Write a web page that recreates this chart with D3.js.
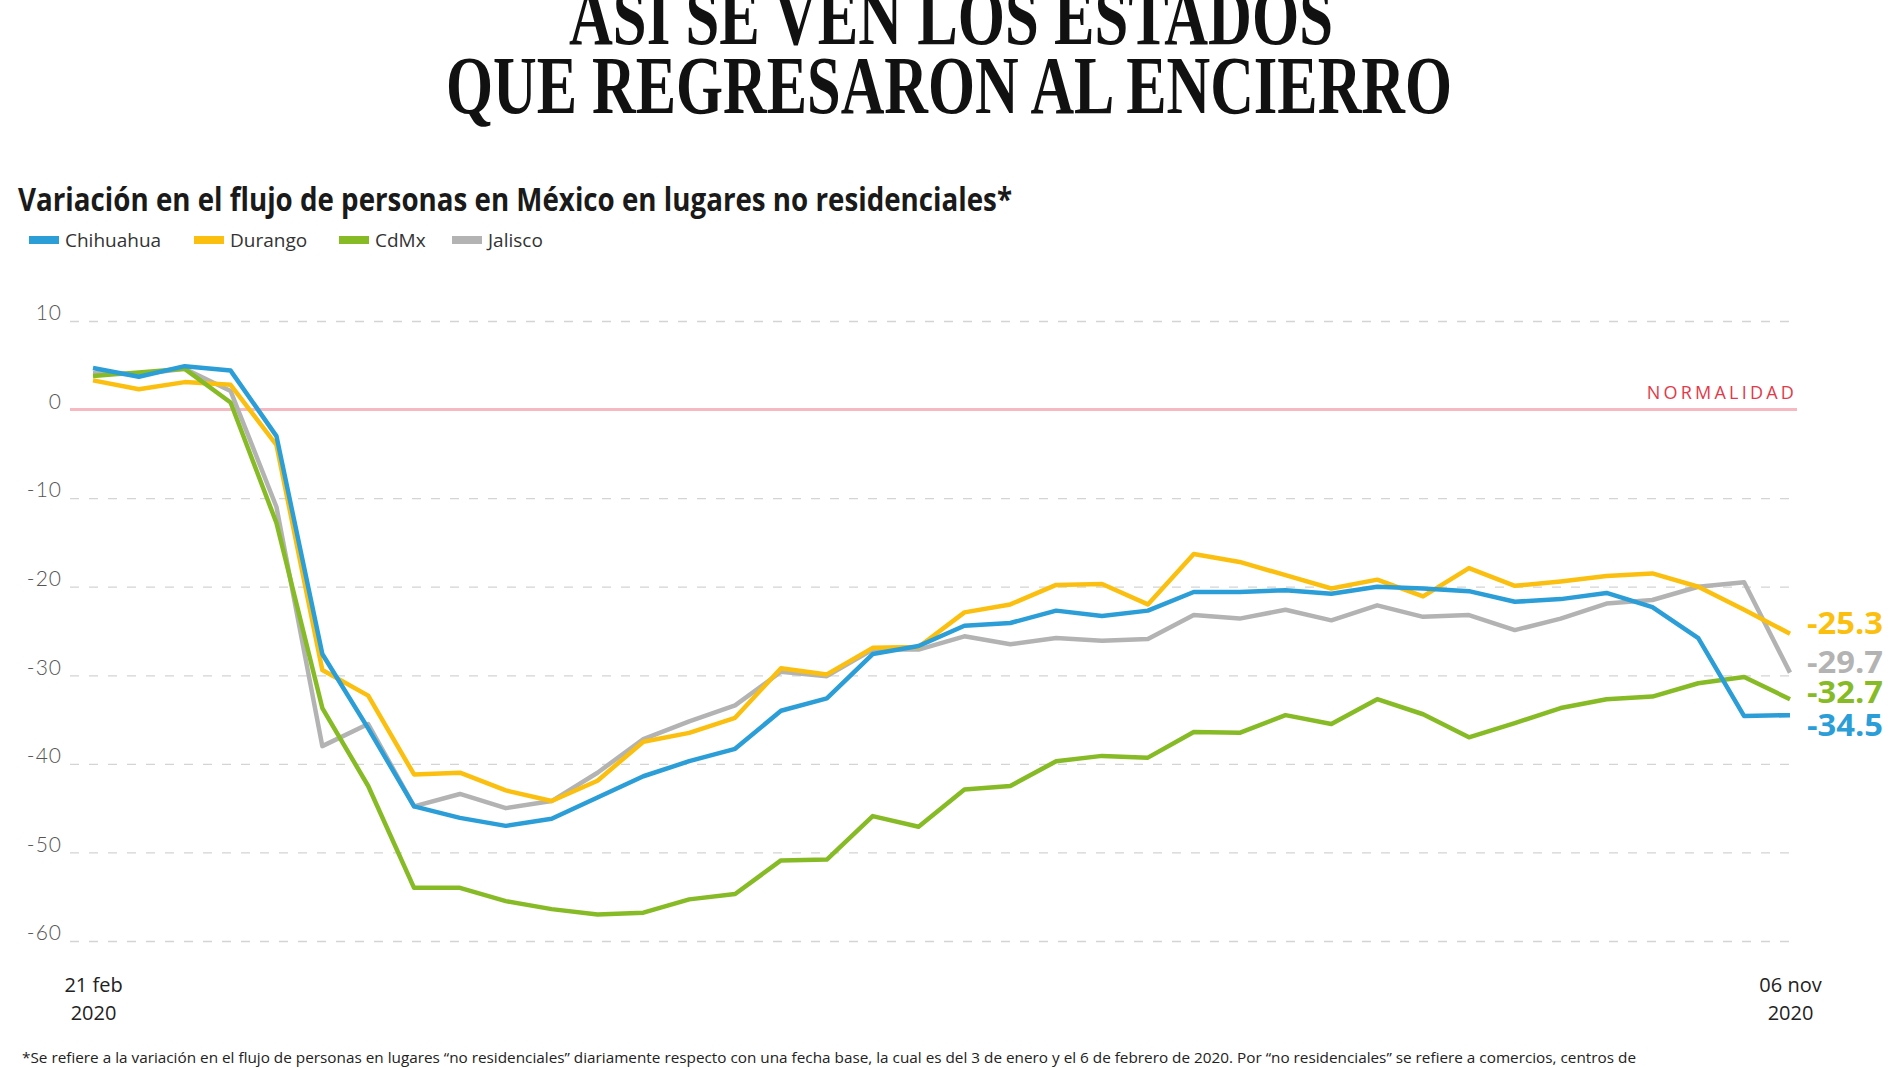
<!DOCTYPE html>
<html>
<head>
<meta charset="utf-8">
<script src="https://cdn.jsdelivr.net/npm/d3@7"></script>
<style>
  html, body { margin: 0; padding: 0; background: #fff; }
  svg { display: block; }
</style>
</head>
<body>
<svg id="chart" width="1900" height="1068"></svg>
<script>
// ---------- DATA ----------
const dates = ["2020-02-21","2020-02-28","2020-03-06","2020-03-13","2020-03-20","2020-03-27",
  "2020-04-03","2020-04-10","2020-04-17","2020-04-24","2020-05-01","2020-05-08","2020-05-15",
  "2020-05-22","2020-05-29","2020-06-05","2020-06-12","2020-06-19","2020-06-26","2020-07-03",
  "2020-07-10","2020-07-17","2020-07-24","2020-07-31","2020-08-07","2020-08-14","2020-08-21",
  "2020-08-28","2020-09-04","2020-09-11","2020-09-18","2020-09-25","2020-10-02","2020-10-09",
  "2020-10-16","2020-10-23","2020-10-30","2020-11-06"];

const chihuahua = [4.7,3.7,4.9,4.4,-3.0,-27.6,-36.0,-44.8,-46.1,-47.0,-46.2,-43.8,-41.4,-39.7,-38.3,
  -34.0,-32.6,-27.6,-26.7,-24.4,-24.1,-22.7,-23.3,-22.7,-20.6,-20.6,-20.4,-20.8,-20.0,-20.2,-20.5,
  -21.7,-21.4,-20.7,-22.3,-25.8,-34.6,-34.5];
const durango = [3.3,2.3,3.1,2.8,-4.0,-29.4,-32.3,-41.2,-41.0,-43.0,-44.2,-41.9,-37.5,-36.5,-34.8,
  -29.2,-29.9,-26.9,-26.8,-22.9,-22.0,-19.8,-19.7,-22.0,-16.3,-17.2,-18.7,-20.2,-19.2,-21.1,-17.9,
  -19.9,-19.4,-18.8,-18.5,-20.0,-22.6,-25.3];
const cdmx = [3.8,4.2,4.6,0.8,-12.8,-33.7,-42.5,-54.0,-54.0,-55.5,-56.4,-57.0,-56.8,-55.3,-54.7,
  -50.9,-50.8,-45.9,-47.1,-42.9,-42.5,-39.7,-39.1,-39.3,-36.4,-36.5,-34.5,-35.5,-32.7,-34.4,-37.0,
  -35.4,-33.7,-32.7,-32.4,-30.9,-30.2,-32.7];
const jalisco = [4.1,4.0,4.6,2.1,-11.0,-38.0,-35.5,-44.8,-43.4,-45.0,-44.2,-41.0,-37.2,-35.2,-33.4,
  -29.6,-30.1,-27.1,-27.1,-25.6,-26.5,-25.8,-26.1,-25.9,-23.2,-23.6,-22.6,-23.8,-22.1,-23.4,-23.2,
  -24.9,-23.6,-21.9,-21.5,-20.0,-19.5,-29.7];

const seriesNames = ["Chihuahua","Durango","CdMx","Jalisco"];
const seriesValues = [chihuahua, durango, cdmx, jalisco];
const endLabels = ["-34.5","-25.3","-32.7","-29.7"];
const yTicks = [10,0,-10,-20,-30,-40,-50,-60];
const xTickLabels = [["21 feb","2020"],["06 nov","2020"]];

const titleLines = ["ASÍ SE VEN LOS ESTADOS","QUE REGRESARON AL ENCIERRO"];
const subtitle = "Variación en el flujo de personas en México en lugares no residenciales*";
const refLabel = "NORMALIDAD";
const footnote = "*Se refiere a la variación en el flujo de personas en lugares \u201cno residenciales\u201d diariamente respecto con una fecha base, la cual es del 3 de enero y el 6 de febrero de 2020. Por \u201cno residenciales\u201d se refiere a comercios, centros de";

// ---------- STYLE / LAYOUT ----------
const colors = ["#2b9ed8","#fbbf0f","#87bb26","#b3b3b3"];
const labelDy = [13, -8, -4, -8];     // end label offset from line end (layout)
const drawOrder = [3,1,2,0];          // gray, yellow, green, blue on top

const svg = d3.select("#chart");
const parse = d3.utcParse("%Y-%m-%d");
const dateObjs = dates.map(parse);

const x = d3.scaleUtc().domain([dateObjs[0], dateObjs[dateObjs.length-1]]).range([93, 1790]);
const y = d3.scaleLinear().domain([10, -60]).range([321, 941]);
const gridX0 = 70, gridX1 = 1797;

// Title
const title = svg.append("g");
const titleSpecs = [{y:44, x0:569, x1:1333},{y:113, x0:446, x1:1452}];
titleLines.forEach((t,i)=>{
  title.append("text")
    .attr("x", titleSpecs[i].x0).attr("y", titleSpecs[i].y)
    .attr("textLength", titleSpecs[i].x1 - titleSpecs[i].x0)
    .attr("lengthAdjust","spacingAndGlyphs")
    .attr("font-family","'Liberation Serif', 'DejaVu Serif', serif")
    .attr("font-weight","bold")
    .attr("font-size", 82)
    .attr("fill","#111")
    .text(t);
});

// Subtitle
svg.append("text")
  .attr("x",18).attr("y",211)
  .attr("textLength", 994).attr("lengthAdjust","spacingAndGlyphs")
  .attr("font-family","'Open Sans', 'Noto Sans', sans-serif")
  .attr("font-weight","700").attr("font-size",32).attr("fill","#1a1a1a")
  .text(subtitle);

// Legend
const legendX = [29, 194, 339, 452];
const legend = svg.append("g");
seriesNames.forEach((n,i)=>{
  legend.append("rect").attr("x",legendX[i]).attr("y",236).attr("width",30).attr("height",8)
    .attr("fill",colors[i]);
  legend.append("text").attr("x",legendX[i]+36).attr("y",247)
    .attr("font-family","'Open Sans', 'Noto Sans', sans-serif")
    .attr("font-size",19).attr("fill","#333")
    .text(n);
});

// Grid lines via axis
const grid = svg.append("g").attr("transform",`translate(${gridX0},0)`)
  .call(d3.axisRight(y).tickValues(yTicks.filter(v=>v!==0)).tickSize(gridX1-gridX0).tickFormat(""));
grid.select(".domain").remove();
grid.selectAll(".tick line").attr("stroke","#d4d4d4").attr("stroke-width",1.3).attr("stroke-dasharray","9,10");

// Y labels via axis
const yAxis = svg.append("g").attr("transform","translate(62,-8)")
  .call(d3.axisLeft(y).tickValues(yTicks).tickSize(0).tickPadding(0).tickFormat(d=>String(d)));
yAxis.select(".domain").remove();
yAxis.selectAll(".tick text")
  .attr("font-family","'Lato', 'Open Sans', sans-serif").attr("font-weight","300")
  .attr("font-size",21).attr("letter-spacing",1).attr("fill","#555");

// Normal reference line at 0
svg.append("line").attr("x1",gridX0).attr("x2",gridX1).attr("y1",y(0)).attr("y2",y(0))
  .attr("stroke","#f6b9c2").attr("stroke-width",3);
svg.append("text").attr("x",gridX1).attr("y",y(0)-11).attr("text-anchor","end")
  .attr("font-family","'Open Sans', 'Noto Sans', sans-serif").attr("font-size",18)
  .attr("letter-spacing",3.2).attr("fill","#e23a4a").text(refLabel);

// Lines
const line = d3.line().x((d,i)=>x(dateObjs[i])).y(d=>y(d));
const lines = svg.append("g");
drawOrder.forEach(k=>{
  lines.append("path").datum(seriesValues[k]).attr("d",line)
    .attr("fill","none").attr("stroke",colors[k]).attr("stroke-width",4.5)
    .attr("stroke-linejoin","round").attr("stroke-linecap","butt");
});

// End labels
seriesValues.forEach((vals,k)=>{
  const v = vals[vals.length-1];
  svg.append("text").attr("x",1807).attr("y",y(v)+labelDy[k])
    .attr("dominant-baseline","middle")
    .attr("textLength",76).attr("lengthAdjust","spacingAndGlyphs")
    .attr("font-family","'Open Sans', 'Noto Sans', sans-serif").attr("font-weight","bold")
    .attr("font-size",30).attr("fill",colors[k])
    .text(endLabels[k]);
});

// X labels via axis
const xAxis = svg.append("g").attr("transform","translate(0,975)")
  .call(d3.axisBottom(x).tickValues([dateObjs[0], dateObjs[dateObjs.length-1]]).tickSize(0).tickFormat(""));
xAxis.select(".domain").remove();
xAxis.selectAll(".tick").each(function(d,i){
  const t = d3.select(this).append("text").attr("fill","#222")
    .attr("font-family","'Open Sans', 'Noto Sans', sans-serif").attr("font-size",20)
    .attr("text-anchor","middle");
  t.append("tspan").attr("x",0).attr("y",17).text(xTickLabels[i][0]);
  t.append("tspan").attr("x",0).attr("y",45).text(xTickLabels[i][1]);
});

// Footnote
svg.append("text").attr("x",22).attr("y",1063)
  .attr("textLength",1614).attr("lengthAdjust","spacingAndGlyphs")
  .attr("font-family","'Open Sans', 'Noto Sans', sans-serif").attr("font-size",15).attr("fill","#222")
  .text(footnote);
</script>
</body>
</html>
